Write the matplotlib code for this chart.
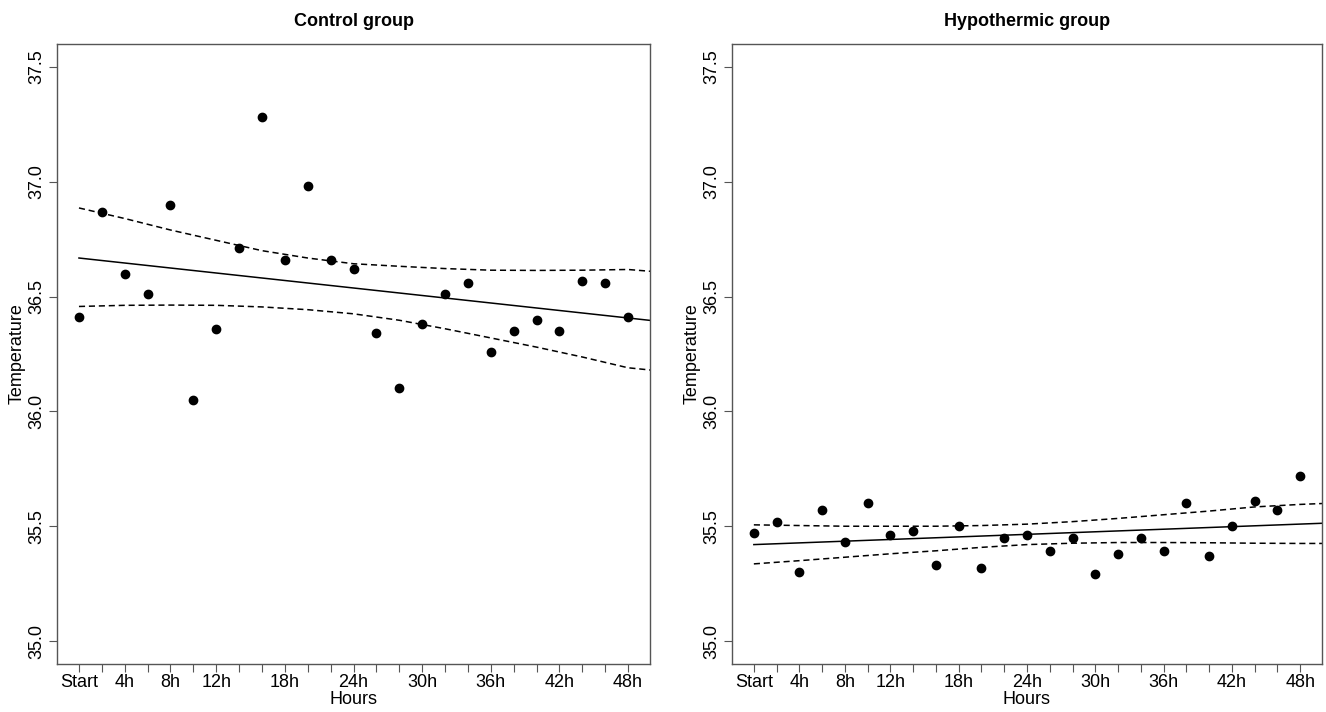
import matplotlib.pyplot as plt
import numpy as np

plt.rcParams['font.family'] = ['Liberation Sans', 'DejaVu Sans']
plt.rcParams['font.size'] = 13

hours = np.arange(0, 49, 2)
tick_names = {0: "Start", 4: "4h", 8: "8h", 12: "12h", 18: "18h", 24: "24h",
              30: "30h", 36: "36h", 42: "42h", 48: "48h"}

control = [36.41, 36.87, 36.60, 36.51, 36.90, 36.05, 36.36, 36.71, 37.28, 36.66,
           36.98, 36.66, 36.62, 36.34, 36.10, 36.38, 36.51, 36.56, 36.26, 36.35,
           36.40, 36.35, 36.57, 36.56, 36.41]
hypo = [35.47, 35.52, 35.30, 35.57, 35.43, 35.60, 35.46, 35.48, 35.33, 35.50,
        35.32, 35.45, 35.46, 35.39, 35.45, 35.29, 35.38, 35.45, 35.39, 35.60,
        35.37, 35.50, 35.61, 35.57, 35.72]

# fitted line and band
fit_hours = [0, 50]
control_fit = [36.668, 36.396]
hypo_fit = [35.420, 35.513]

band_hours = [0, 4, 8, 12, 16, 20, 24, 28, 32, 36, 40, 44, 48, 50]
control_upper = [36.886, 36.84, 36.79, 36.745, 36.70, 36.668, 36.643, 36.632,
                 36.622, 36.615, 36.614, 36.615, 36.618, 36.61]
control_lower = [36.457, 36.462, 36.463, 36.462, 36.455, 36.443, 36.425, 36.397,
                 36.36, 36.32, 36.28, 36.237, 36.19, 36.18]
hypo_upper = [35.506, 35.503, 35.50, 35.50, 35.50, 35.503, 35.509, 35.52,
              35.534, 35.55, 35.566, 35.584, 35.595, 35.599]
hypo_lower = [35.336, 35.35, 35.365, 35.38, 35.393, 35.408, 35.42, 35.426,
              35.429, 35.429, 35.428, 35.426, 35.425, 35.425]

fig = plt.figure(figsize=(13.26, 7.12), dpi=100)
ax1 = fig.add_axes([57 / 1326, 48 / 712, 593 / 1326, 620 / 712])
ax2 = fig.add_axes([732 / 1326, 48 / 712, 590 / 1326, 620 / 712])

panels = [(ax1, "Control group", control, control_fit, control_upper, control_lower),
          (ax2, "Hypothermic group", hypo, hypo_fit, hypo_upper, hypo_lower)]

for ax, title, vals, fit, up, lo in panels:
    ax.plot(fit_hours, fit, color="black", lw=1.1)
    ax.plot(band_hours, up, color="black", lw=1.1, dashes=(4, 2.5))
    ax.plot(band_hours, lo, color="black", lw=1.1, dashes=(4, 2.5))
    ax.plot(hours, vals, "o", color="black", ms=6)

    ax.set_xlim(-1.92, 49.92)
    ax.set_ylim(34.9, 37.6)
    ax.set_xticks(hours)
    ax.set_xticklabels([tick_names.get(h, "") for h in hours])
    ax.set_yticks([35.0, 35.5, 36.0, 36.5, 37.0, 37.5])
    ax.set_yticklabels(["35.0", "35.5", "36.0", "36.5", "37.0", "37.5"],
                       rotation=90, va="center")
    ax.tick_params(length=5.5, width=0.8, color="#555555", pad=2)
    ax.tick_params(axis="y", pad=3)
    for s in ax.spines.values():
        s.set_color("#555555")
        s.set_linewidth(1)

    ax.set_xlabel("Hours")
    ax.xaxis.set_label_coords(0.5, -0.058)
    ax.xaxis.label.set_verticalalignment("center")
    ax.set_ylabel("Temperature")
    ax.yaxis.set_label_coords(-0.0675, 0.5)
    ax.yaxis.label.set_verticalalignment("center")
    ax.text(0.5, 1.0355, title, transform=ax.transAxes, ha="center", va="center",
            fontweight="bold")

plt.savefig("out.png", dpi=100)
